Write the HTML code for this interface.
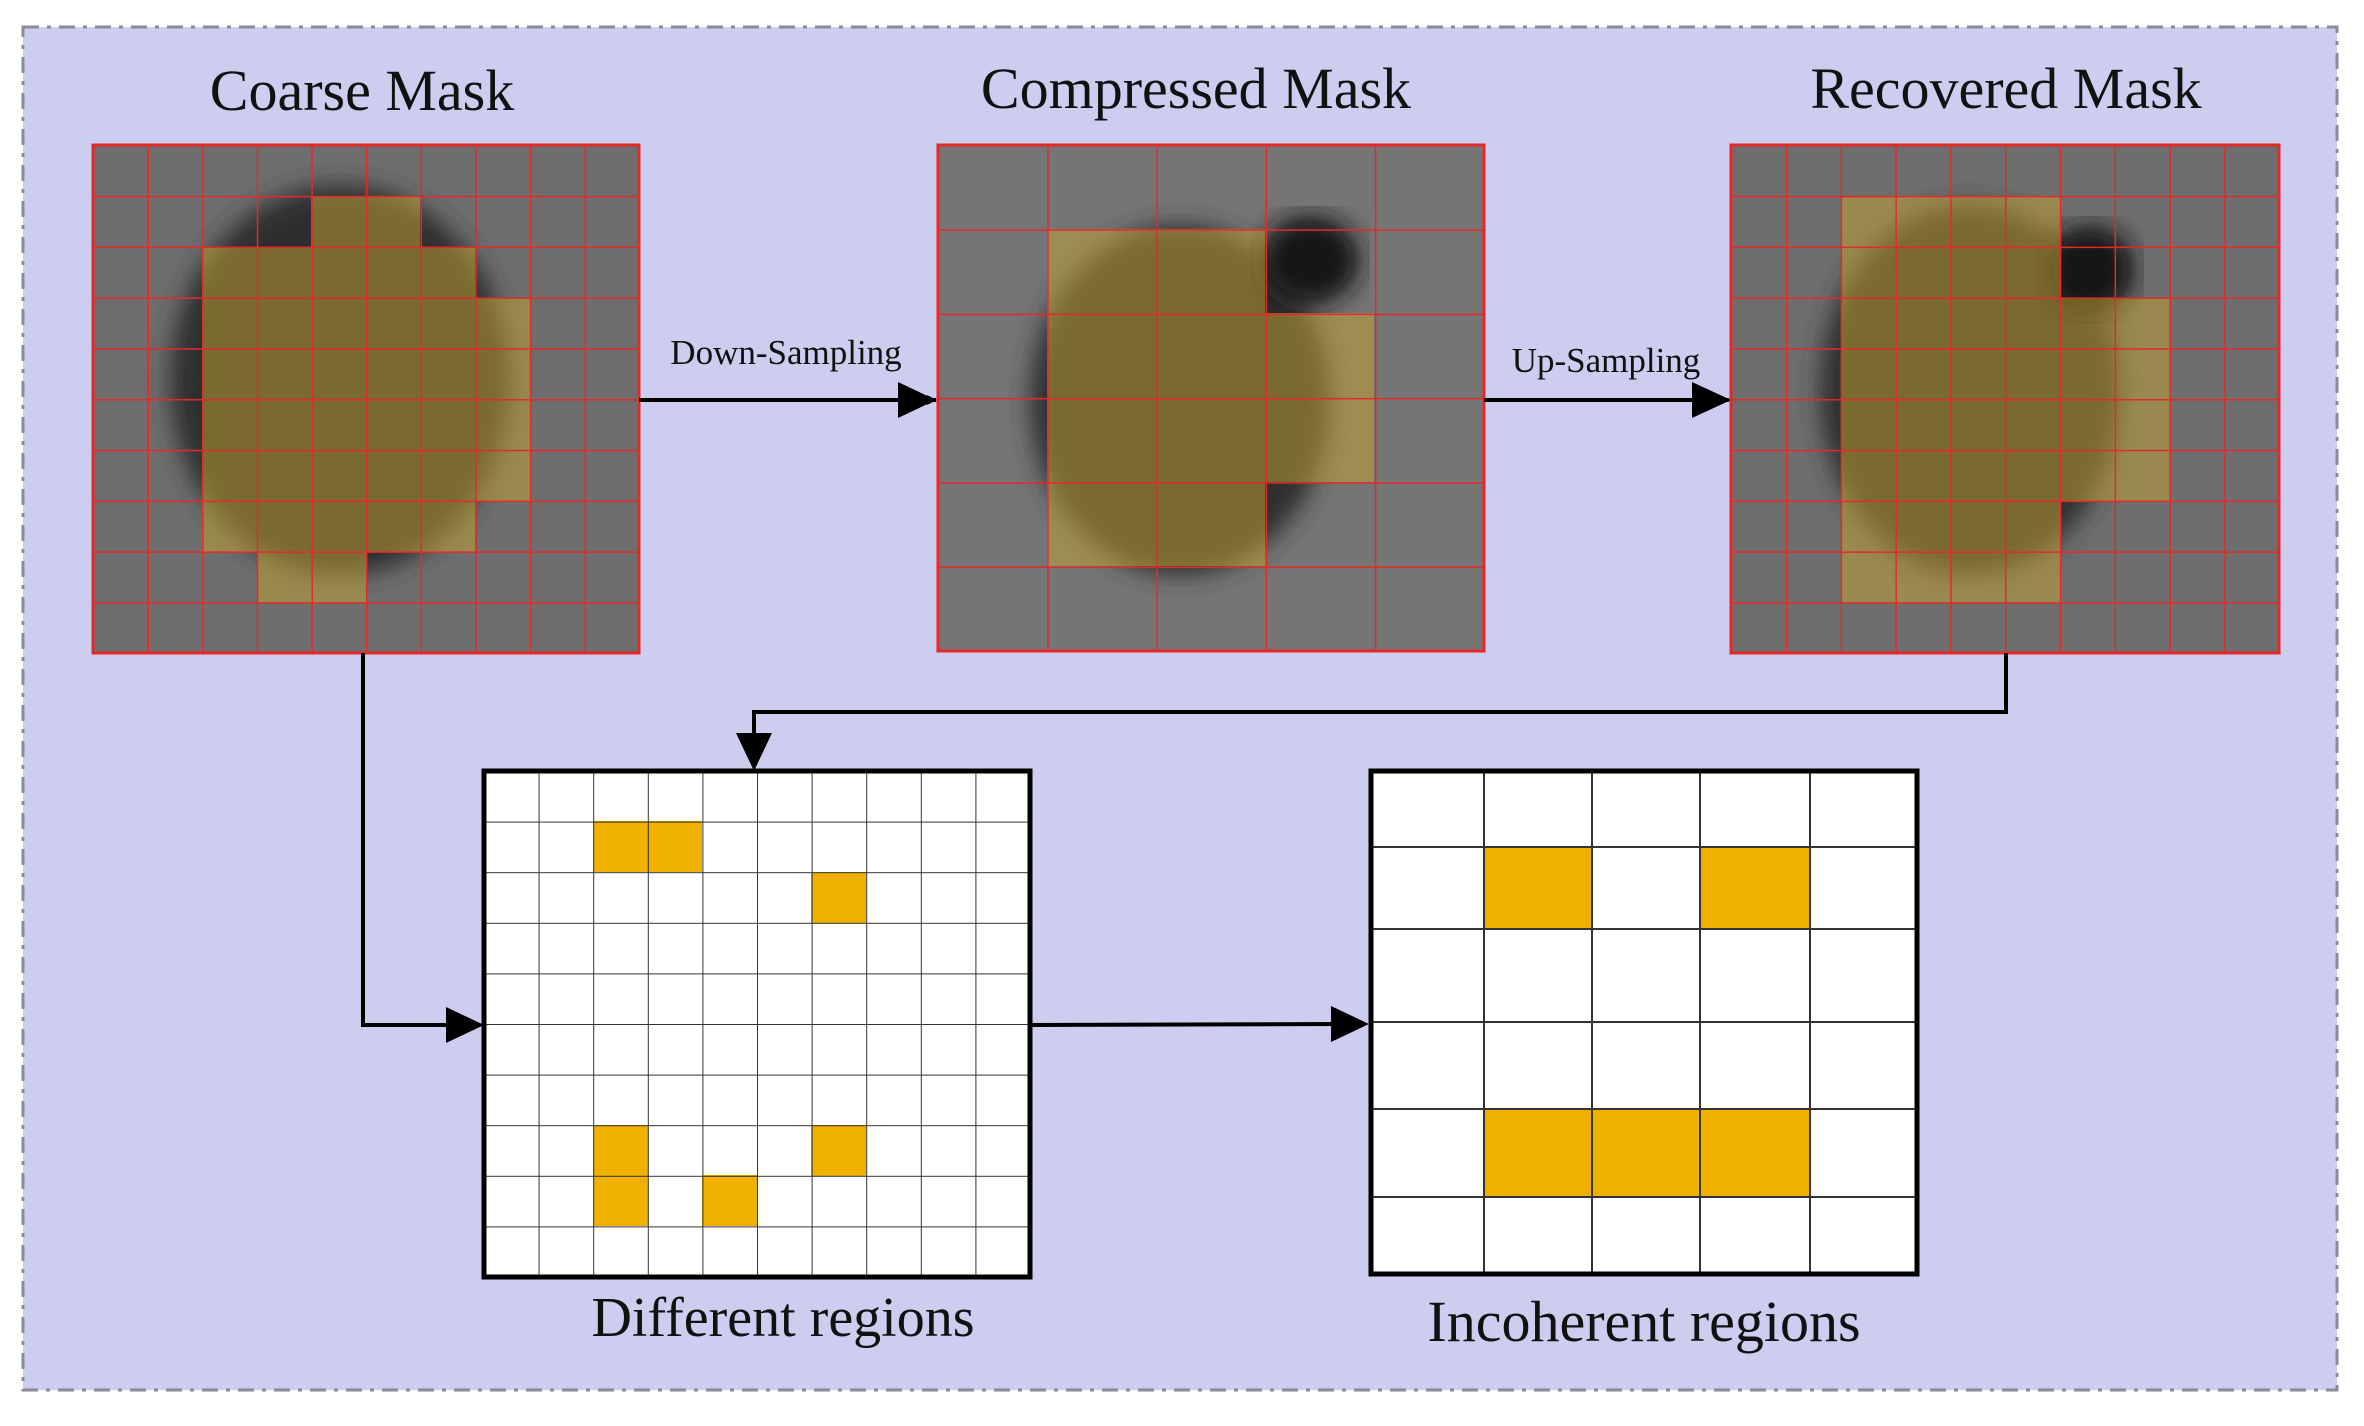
<!DOCTYPE html>
<html><head><meta charset="utf-8"><style>
html,body{margin:0;padding:0;background:#fff}
svg{display:block}
text{font-family:"Liberation Serif",serif;fill:#111}
</style></head><body>
<svg width="2364" height="1426" viewBox="0 0 2364 1426" xmlns="http://www.w3.org/2000/svg">
<defs>
<pattern id="g1" x="93" y="145" width="54.6" height="50.8" patternUnits="userSpaceOnUse"><path d="M0 0H54.6M0 0V50.8" stroke="#e62828" stroke-width="3" fill="none"/></pattern>
<pattern id="g2" x="938" y="145" width="109.2" height="84.3" patternUnits="userSpaceOnUse"><path d="M0 0H109.2M0 0V84.3" stroke="#e62828" stroke-width="3" fill="none"/></pattern>
<pattern id="g3" x="1731" y="145" width="54.8" height="50.8" patternUnits="userSpaceOnUse"><path d="M0 0H54.8M0 0V50.8" stroke="#e62828" stroke-width="3" fill="none"/></pattern>
<pattern id="g4" x="484" y="771" width="54.6" height="50.6" patternUnits="userSpaceOnUse"><path d="M0 0H54.6M0 0V50.6" stroke="#333" stroke-width="2" fill="none"/></pattern>
<filter id="bl"><feGaussianBlur stdDeviation="12"/></filter>
<marker id="ah" markerWidth="10" markerHeight="10" refX="9" refY="5" orient="auto" markerUnits="userSpaceOnUse" viewBox="0 0 10 10"><path d="M0 0L10 5L0 10z" fill="#000"/></marker>
</defs>
<rect x="23" y="27" width="2314" height="1363" fill="#cdcdef" stroke="#8a8a9a" stroke-width="3" stroke-dasharray="16 8 4 8"/>

<!-- Coarse -->
<rect x="93" y="145" width="546" height="508" fill="#6e6e6e"/>
<ellipse cx="340" cy="380" rx="170" ry="195" fill="#2e2e2e" filter="url(#bl)"/>
<path d="M311 196H420V247H475V298H530V501H475V552H366V603H257V552H202V247H311Z" fill="rgba(200,165,50,0.5)"/>
<rect x="93" y="145" width="546" height="508" fill="url(#g1)" stroke="#e62828" stroke-width="3"/>

<!-- Compressed -->
<rect x="938" y="145" width="546" height="506" fill="#757575"/>
<ellipse cx="1180" cy="400" rx="150" ry="175" fill="#2e2e2e" filter="url(#bl)"/>
<ellipse cx="1310" cy="260" rx="50" ry="45" fill="#151515" filter="url(#bl)"/>
<path d="M1047 229H1265V313H1374V482H1265V566H1047Z" fill="rgba(200,165,50,0.5)"/>
<rect x="938" y="145" width="546" height="506" fill="url(#g2)" stroke="#e62828" stroke-width="3"/>

<!-- Recovered -->
<rect x="1731" y="145" width="548" height="508" fill="#6e6e6e"/>
<ellipse cx="1970" cy="390" rx="150" ry="185" fill="#2e2e2e" filter="url(#bl)"/>
<ellipse cx="2090" cy="270" rx="45" ry="45" fill="#151515" filter="url(#bl)"/>
<path d="M1841 196H2060V298H2170V501H2060V603H1841Z" fill="rgba(200,165,50,0.5)"/>
<rect x="1731" y="145" width="548" height="508" fill="url(#g3)" stroke="#e62828" stroke-width="3"/>

<!-- Titles -->
<text x="362" y="110" font-size="58" text-anchor="middle">Coarse Mask</text>
<text x="1196" y="108" font-size="58" text-anchor="middle">Compressed Mask</text>
<text x="2006" y="108" font-size="58" text-anchor="middle">Recovered Mask</text>

<!-- top arrows -->
<line x1="639" y1="400" x2="936" y2="400" stroke="#000" stroke-width="4" marker-end="url(#ah)"/>
<path d="M898 382L936 400L898 418Z" fill="#000"/>
<text x="786" y="364" font-size="35" text-anchor="middle">Down-Sampling</text>
<line x1="1484" y1="400" x2="1729" y2="400" stroke="#000" stroke-width="4"/>
<path d="M1692 382L1731 400L1692 418Z" fill="#000"/>
<text x="1606" y="372" font-size="35" text-anchor="middle">Up-Sampling</text>

<!-- connectors -->
<path d="M363 653V1025H450" fill="none" stroke="#000" stroke-width="4"/>
<path d="M446 1007L484 1025L446 1043Z" fill="#000"/>
<path d="M2006 653V712H754V740" fill="none" stroke="#000" stroke-width="4"/>
<path d="M736 733L754 771L772 733Z" fill="#000"/>
<line x1="1030" y1="1025" x2="1340" y2="1024" stroke="#000" stroke-width="4"/>
<path d="M1331 1006L1369 1024L1331 1042Z" fill="#000"/>

<!-- Different regions -->
<rect x="484" y="771" width="546" height="506" fill="#fff"/>
<g fill="#f0b000">
<rect x="593" y="821" width="109" height="51"/>
<rect x="811" y="872" width="55" height="51"/>
<rect x="593" y="1125" width="55" height="101"/>
<rect x="702" y="1175" width="55" height="51"/>
<rect x="811" y="1125" width="55" height="51"/>
</g>
<rect x="484" y="771" width="546" height="506" fill="url(#g4)"/>
<rect x="484" y="771" width="546" height="506" fill="none" stroke="#000" stroke-width="5"/>

<!-- Incoherent regions -->
<rect x="1371" y="771" width="546" height="503" fill="#fff"/>
<g fill="#f0b000">
<rect x="1484" y="847" width="108" height="82"/>
<rect x="1700" y="847" width="110" height="82"/>
<rect x="1484" y="1109" width="326" height="88"/>
</g>
<g stroke="#333" stroke-width="2">
<line x1="1484" y1="771" x2="1484" y2="1274"/>
<line x1="1592" y1="771" x2="1592" y2="1274"/>
<line x1="1700" y1="771" x2="1700" y2="1274"/>
<line x1="1810" y1="771" x2="1810" y2="1274"/>
<line x1="1371" y1="847" x2="1917" y2="847"/>
<line x1="1371" y1="929" x2="1917" y2="929"/>
<line x1="1371" y1="1022" x2="1917" y2="1022"/>
<line x1="1371" y1="1109" x2="1917" y2="1109"/>
<line x1="1371" y1="1197" x2="1917" y2="1197"/>
</g>
<rect x="1371" y="771" width="546" height="503" fill="none" stroke="#000" stroke-width="5"/>

<text x="783" y="1336" font-size="56" text-anchor="middle">Different regions</text>
<text x="1644" y="1341" font-size="58" text-anchor="middle">Incoherent regions</text>
</svg>
</body></html>
